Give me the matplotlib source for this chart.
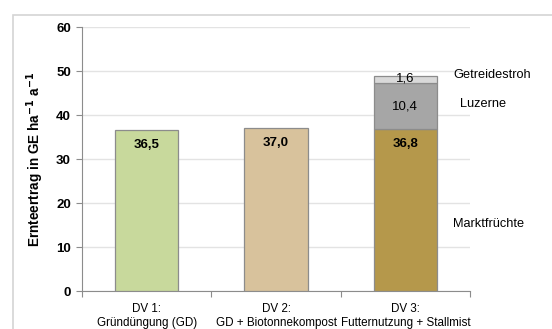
import matplotlib.pyplot as plt
from matplotlib.patches import Rectangle

plt.rcParams['font.family'] = ['Liberation Sans', 'DejaVu Sans']

categories = ['DV 1:\nGründüngung (GD)', 'DV 2:\nGD + Biotonnekompost', 'DV 3:\nFutternutzung + Stallmist']
marktfruechte = [36.5, 37.0, 36.8]
luzerne = [0, 0, 10.4]
getreidestroh = [0, 0, 1.6]
base_colors = ['#c8d99c', '#d8c29c', '#b5984b']
yticks = [0, 10, 20, 30, 40, 50, 60]

fig = plt.figure(figsize=(5.52, 3.29), dpi=100)
ax = fig.add_axes([82/552, 1 - 291/329, 388/552, 264/329])

# outer chart frame
fig.patches.append(Rectangle((13/552, -0.1), 1.2, 1 - 14.5/329 + 0.1,
                             transform=fig.transFigure, fill=False,
                             edgecolor='#d4d4d4', linewidth=1.2))

x = list(range(len(categories)))
w = 0.49
edge = '#8c8c8c'
ax.bar(x, marktfruechte, width=w, color=base_colors, edgecolor=edge, linewidth=0.9, zorder=3)
ax.bar(x[2], luzerne[2], bottom=marktfruechte[2], width=w, color='#a6a6a6',
       edgecolor=edge, linewidth=0.9, zorder=3)
ax.bar(x[2], getreidestroh[2], bottom=marktfruechte[2] + luzerne[2], width=w,
       color='#d9d9d9', edgecolor=edge, linewidth=0.9, zorder=3)

for i, v in enumerate(marktfruechte):
    ax.text(x[i], v - 3.3, f'{v:.1f}'.replace('.', ','), ha='center', va='center',
            fontsize=9.5, fontweight='bold', zorder=4)
ax.text(x[2], marktfruechte[2] + luzerne[2] / 2, f'{luzerne[2]:.1f}'.replace('.', ','),
        ha='center', va='center', fontsize=9.5, zorder=4)
ax.text(x[2], marktfruechte[2] + luzerne[2] + getreidestroh[2] / 2 + 0.2,
        f'{getreidestroh[2]:.1f}'.replace('.', ','), ha='center', va='center',
        fontsize=9.5, zorder=4)

# series names beside the stacked bar
ax.text(453/552, 1 - 75/329, 'Getreidestroh', transform=fig.transFigure, va='center', fontsize=9.2)
ax.text(460/552, 1 - 104/329, 'Luzerne', transform=fig.transFigure, va='center', fontsize=9.2)
ax.text(453/552, 1 - 224/329, 'Marktfrüchte', transform=fig.transFigure, va='center', fontsize=9.2)

ax.set_xlim(-0.5, 2.5)
ax.set_ylim(0, 60)
ax.set_yticks(yticks)
ax.set_yticklabels([str(t) for t in yticks], fontsize=9.5, fontweight='bold')
ax.yaxis.grid(True, color='#e3e3e3', linewidth=1.0, zorder=0)
ax.set_axisbelow(True)

ax.set_xticks([-0.5, 0.5, 1.5, 2.5])
ax.set_xticklabels([])
ax.set_xticks(x, minor=True)
ax.set_xticklabels(categories, minor=True, fontsize=8.4, linespacing=1.15)
ax.tick_params(axis='x', which='minor', length=0, pad=9)
ax.tick_params(axis='x', which='major', length=4, color='#8c8c8c')
ax.tick_params(axis='y', length=4, color='#8c8c8c', pad=4)

for s in ['top', 'right']:
    ax.spines[s].set_visible(False)
ax.spines['left'].set_color('#8c8c8c')
ax.spines['bottom'].set_color('#8c8c8c')

ax.set_ylabel('Ernteertrag in GE ha$^{\\mathbf{-1}}$ a$^{\\mathbf{-1}}$', fontsize=9.8,
              fontweight='bold', labelpad=7)

fig.savefig('out.png', dpi=100)
